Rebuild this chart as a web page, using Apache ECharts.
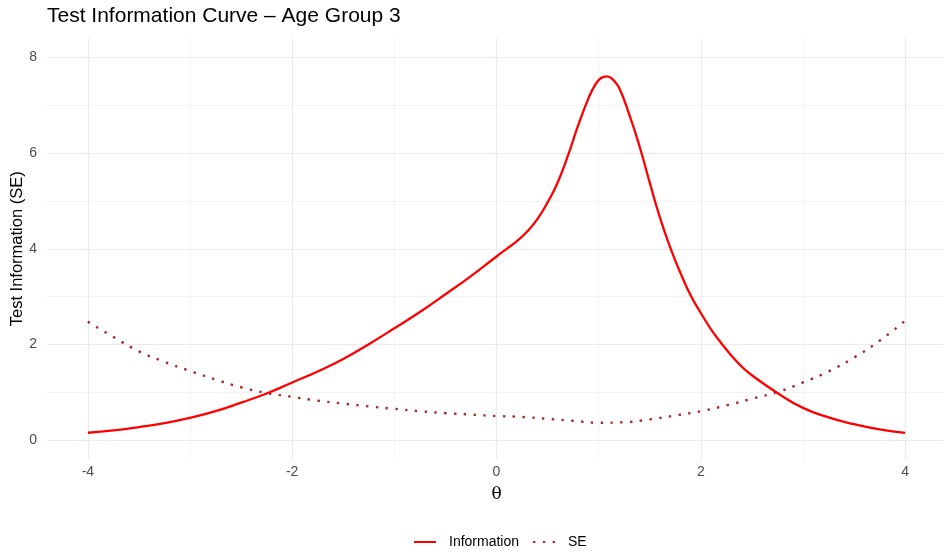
<!DOCTYPE html>
<html>
<head>
<meta charset="utf-8">
<script src="https://cdn.jsdelivr.net/npm/echarts@6/dist/echarts.min.js"></script>
<style>
html,body{margin:0;padding:0;background:#fff;}
#chart{width:943px;height:552px;}
</style>
</head>
<body>
<div id="chart"></div>
<script>
// Information curve
const infoTheta = [-4,-3.75,-3.5,-3.25,-3,-2.75,-2.5,-2.25,-2,-1.75,-1.5,-1.25,-1,-0.75,-0.5,-0.25,0,0.1,0.2,0.3,0.4,0.5,0.6,0.7,0.8,0.9,0.96,1.02,1.08,1.14,1.2,1.3,1.4,1.5,1.6,1.7,1.8,1.9,2.0,2.1,2.2,2.3,2.4,2.5,2.75,3.0,3.25,3.5,3.75,4.0];
const infoValues = [0.16,0.21,0.28,0.36,0.47,0.61,0.79,0.98,1.21,1.44,1.70,2.01,2.34,2.68,3.05,3.43,3.84,4.00,4.16,4.36,4.62,4.97,5.39,5.95,6.58,7.14,7.40,7.56,7.60,7.53,7.36,6.80,6.14,5.38,4.65,4.03,3.50,3.03,2.66,2.32,2.03,1.77,1.54,1.36,0.99,0.68,0.48,0.34,0.23,0.16];

// Standard error curve
const seTheta = [-4,-3.75,-3.5,-3.25,-3,-2.75,-2.5,-2.25,-2,-1.75,-1.5,-1.25,-1,-0.75,-0.5,-0.25,0,0.25,0.5,0.75,1,1.25,1.5,1.75,2,2.25,2.5,2.75,3,3.25,3.5,3.75,4];
const seValues = [2.48,2.16,1.86,1.64,1.45,1.27,1.11,0.99,0.91,0.83,0.77,0.71,0.66,0.61,0.57,0.54,0.51,0.49,0.45,0.41,0.37,0.38,0.44,0.52,0.61,0.73,0.87,1.01,1.21,1.44,1.73,2.08,2.50];

// Tick / grid values
const xMajorTicks = [-4,-2,0,2,4];
const xMinorTicks = [-3,-1,1,3];
const yMajorTicks = [0,2,4,6,8];
const yMinorTicks = [1,3,5,7];

const titleText = 'Test Information Curve \u2013 Age Group 3';
const xName = '\u03b8';
const yName = 'Test Information (SE)';
const seriesNames = ['Information','SE'];

const majorStyle = {color:'#ebebeb', width:1.1, type:'solid'};
const minorStyle = {color:'#ebebeb', width:0.55, type:'solid'};
const gridLines = []
  .concat(xMinorTicks.map(v => ({xAxis:v, lineStyle:minorStyle})))
  .concat(yMinorTicks.map(v => ({yAxis:v, lineStyle:minorStyle})))
  .concat(xMajorTicks.map(v => ({xAxis:v, lineStyle:majorStyle})))
  .concat(yMajorTicks.map(v => ({yAxis:v, lineStyle:majorStyle})));

const chart = echarts.init(document.getElementById('chart'), null, {renderer:'canvas'});
const fontFam = '"Liberation Sans", Arial, sans-serif';

chart.setOption({
  animation:false,
  backgroundColor:'#ffffff',
  textStyle:{fontFamily:fontFam},
  title:{
    text:titleText, left:47, top:6, padding:0,
    textStyle:{fontSize:21, fontWeight:'normal', color:'#000000', fontFamily:fontFam}
  },
  legend:{
    data:seriesNames, left:408, top:530,
    itemWidth:22, itemHeight:14, itemGap:13,
    itemStyle:{opacity:0},
    textStyle:{fontSize:14, color:'#000000', fontFamily:fontFam, padding:[0,0,0,8]}
  },
  grid:{left:47, top:38, width:899, height:421.6, containLabel:false, outerBoundsMode:'none'},
  xAxis:{
    type:'value', min:-4.4, max:4.4,
    name:xName, nameLocation:'middle', nameGap:26, nameMoveOverlap:false,
    nameTextStyle:{fontSize:17, color:'#000000', fontFamily:'"DejaVu Serif", "Liberation Serif", serif'},
    axisLine:{show:false}, axisTick:{show:false}, splitLine:{show:false},
    axisLabel:{
      show:true, customValues:xMajorTicks,
      margin:6, fontSize:14, color:'#4d4d4d', fontFamily:fontFam
    }
  },
  yAxis:{
    type:'value', min:-0.4, max:8.4,
    name:yName, nameLocation:'middle', nameGap:21, nameRotate:90, nameMoveOverlap:false,
    nameTextStyle:{fontSize:16.5, color:'#000000', fontFamily:fontFam},
    axisLine:{show:false}, axisTick:{show:false}, splitLine:{show:false},
    axisLabel:{
      show:true, customValues:yMajorTicks,
      margin:10, fontSize:14, color:'#4d4d4d', fontFamily:fontFam
    }
  },
  series:[
    {
      name:'grid', type:'line', data:[], z:1, silent:true,
      markLine:{silent:true, z:1, symbol:['none','none'], animation:false, label:{show:false}, emphasis:{disabled:true}, data:gridLines}
    },
    {
      name:seriesNames[0], type:'line', z:3,
      data:infoTheta.map((t,i)=>[t, infoValues[i]]),
      showSymbol:false, symbol:'none', smooth:0.5,
      lineStyle:{color:'#ff0000', width:2.3},
      itemStyle:{color:'#ff0000'}
    },
    {
      name:seriesNames[1], type:'line', z:2,
      data:seTheta.map((t,i)=>[t, seValues[i]]),
      showSymbol:false, symbol:'none', smooth:0.5,
      lineStyle:{color:'#a52a2a', width:2.4, type:[2.4,7.4], cap:'butt'},
      itemStyle:{color:'#a52a2a'}
    }
  ]
});
</script>
</body>
</html>
